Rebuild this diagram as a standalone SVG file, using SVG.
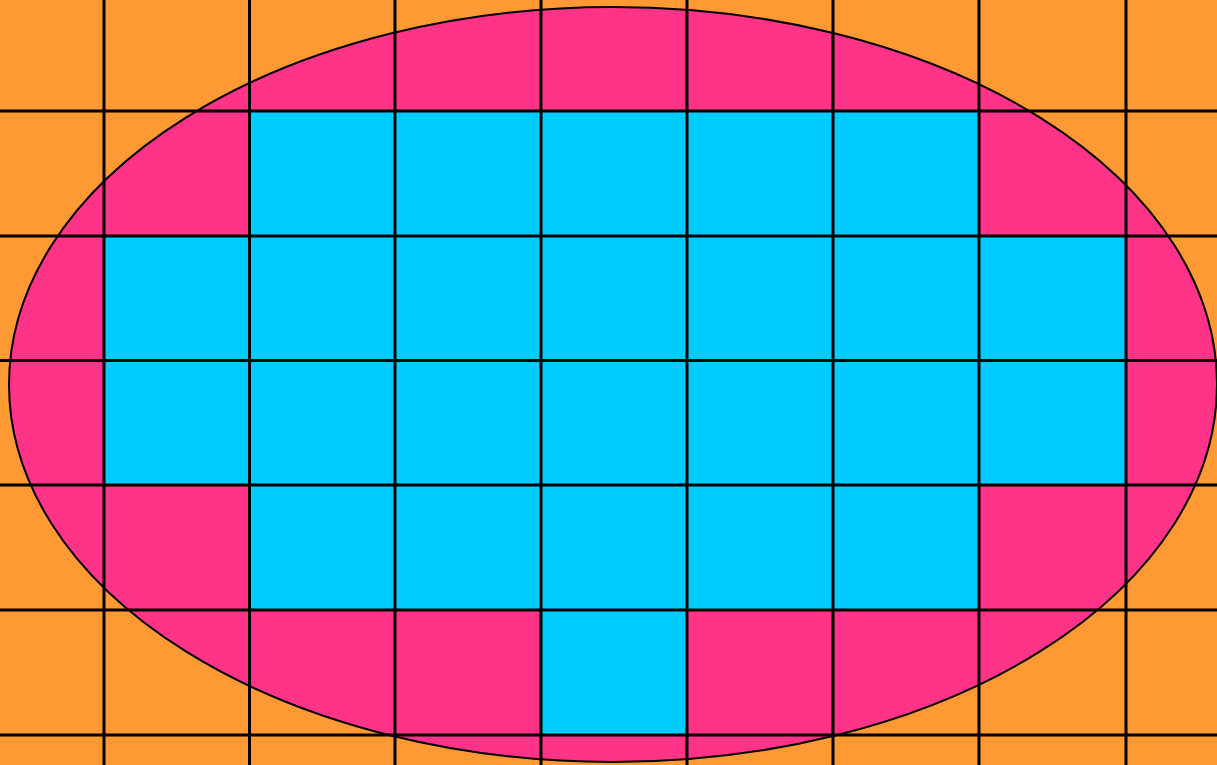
<svg xmlns="http://www.w3.org/2000/svg" width="1217" height="765" viewBox="0 0 1217 765">
<style>
.bg{fill:#FF9933}
.ell{fill:#FF3388;stroke:none}
.ellStroke{fill:none;stroke:#000;stroke-width:2}
.cell{fill:#00CCFF}
.grid{stroke:#000;stroke-width:3}
</style>
<rect class="bg" x="0" y="0" width="1217" height="765"/>
<ellipse class="ell" cx="613" cy="384.5" rx="604" ry="377.5"/>
<g id="cells">
<rect class="cell" x="249.5" y="111" width="729.5" height="125"/>
<rect class="cell" x="104" y="236" width="1022" height="249"/>
<rect class="cell" x="249.5" y="485" width="729.5" height="125"/>
<rect class="cell" x="541" y="610" width="146" height="125"/>
</g>
<ellipse class="ellStroke" cx="613" cy="384.5" rx="604" ry="377.5"/>
<g id="grid" class="grid">
<line x1="104" y1="0" x2="104" y2="765"/>
<line x1="249.5" y1="0" x2="249.5" y2="765"/>
<line x1="395" y1="0" x2="395" y2="765"/>
<line x1="541" y1="0" x2="541" y2="765"/>
<line x1="687" y1="0" x2="687" y2="765"/>
<line x1="833" y1="0" x2="833" y2="765"/>
<line x1="979" y1="0" x2="979" y2="765"/>
<line x1="1126" y1="0" x2="1126" y2="765"/>
<line x1="0" y1="111" x2="1217" y2="111"/>
<line x1="0" y1="236" x2="1217" y2="236"/>
<line x1="0" y1="360.5" x2="1217" y2="360.5"/>
<line x1="0" y1="485" x2="1217" y2="485"/>
<line x1="0" y1="610" x2="1217" y2="610"/>
<line x1="0" y1="735" x2="1217" y2="735"/>
</g>
</svg>
